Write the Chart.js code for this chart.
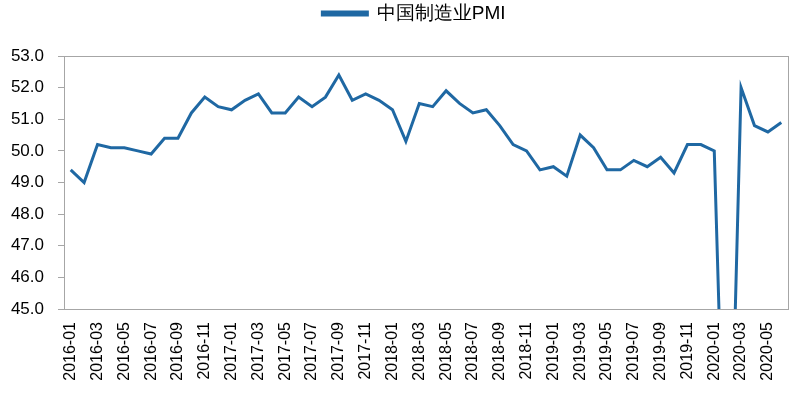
<!DOCTYPE html>
<html>
<head>
<meta charset="utf-8">
<script src="https://cdn.jsdelivr.net/npm/chart.js@4.4.0/dist/chart.umd.min.js"></script>
<style>
  html, body { margin: 0; padding: 0; background: #fff; }
  #wrap { width: 800px; height: 398px; }
</style>
</head>
<body>
<div id="wrap"><canvas id="grafico" width="800" height="398"></canvas></div>
<script>
// meses 2016-01 .. 2020-06
const meses = [
    '2016-01','2016-02','2016-03','2016-04','2016-05','2016-06','2016-07','2016-08','2016-09','2016-10','2016-11','2016-12',
    '2017-01','2017-02','2017-03','2017-04','2017-05','2017-06','2017-07','2017-08','2017-09','2017-10','2017-11','2017-12',
    '2018-01','2018-02','2018-03','2018-04','2018-05','2018-06','2018-07','2018-08','2018-09','2018-10','2018-11','2018-12',
    '2019-01','2019-02','2019-03','2019-04','2019-05','2019-06','2019-07','2019-08','2019-09','2019-10','2019-11','2019-12',
    '2020-01','2020-02','2020-03','2020-04','2020-05','2020-06'
];

const pmi = [
    49.4, 49.0, 50.2, 50.1, 50.1, 50.0, 49.9, 50.4, 50.4, 51.2, 51.7, 51.4,
    51.3, 51.6, 51.8, 51.2, 51.2, 51.7, 51.4, 51.7, 52.4, 51.6, 51.8, 51.6,
    51.3, 50.3, 51.5, 51.4, 51.9, 51.5, 51.2, 51.3, 50.8, 50.2, 50.0, 49.4,
    49.5, 49.2, 50.5, 50.1, 49.4, 49.4, 49.7, 49.5, 49.8, 49.3, 50.2, 50.2,
    50.0, 35.7, 52.0, 50.8, 50.6, 50.9
];

const yMin = 45;
const yMax = 53;
const yStep = 1;

const corLinha = '#1f68a3';
const corEixo = '#a6a6a6';

// moldura cinza em volta da área do gráfico
const moldura = {
    id: 'moldura',
    afterDraw(chart) {
        const { ctx, chartArea: a } = chart;
        ctx.save();
        ctx.strokeStyle = corEixo;
        ctx.lineWidth = 1;
        ctx.strokeRect(a.left + 0.5, a.top + 0.5, a.right - a.left, a.bottom - a.top);
        ctx.restore();
    }
};

// espaço extra abaixo da legenda e deslocamento horizontal
const ajusteLegenda = {
    id: 'ajusteLegenda',
    beforeUpdate(chart) {
        const leg = chart.legend;
        if (leg && !leg._ajustado) {
            const fitOriginal = leg.fit.bind(leg);
            leg.fit = function () {
                fitOriginal();
                this.height += 23;
            };
            leg._ajustado = true;
        }
    },
    afterLayout(chart) {
        if (chart.legend) chart.legend.left += 40;
    }
};

new Chart(document.getElementById('grafico').getContext('2d'), {
    type: 'line',
    data: {
        labels: meses,
        datasets: [{
            label: '中国制造业PMI',
            data: pmi,
            borderColor: corLinha,
            backgroundColor: corLinha,
            borderWidth: 3,
            pointRadius: 0,
            tension: 0,
            fill: false
        }]
    },
    options: {
        responsive: false,
        animation: false,
        layout: { padding: { left: 0, right: 12, top: 0, bottom: 0 } },
        plugins: {
            tooltip: { enabled: false },
            legend: {
                position: 'top',
                labels: {
                    color: '#000',
                    font: { family: 'Liberation Sans, Arial, sans-serif', size: 19 },
                    boxWidth: 45,
                    boxHeight: 3,
                    padding: 4
                }
            }
        },
        scales: {
            x: {
                offset: true,
                grid: { display: true, drawOnChartArea: false, drawTicks: false },
                border: { display: true, color: corEixo },
                afterFit(scale) {
                    scale.height = 89;
                    scale.paddingLeft = 0;
                    scale.paddingRight = 0;
                },
                ticks: {
                    autoSkip: false,
                    minRotation: 90,
                    maxRotation: 90,
                    padding: 13,
                    color: '#000',
                    font: { family: 'Liberation Sans, Arial, sans-serif', size: 16 },
                    callback: (v, i) => (i % 2 === 0 ? meses[i] : '')
                }
            },
            y: {
                min: yMin,
                max: yMax,
                grid: { display: true, drawOnChartArea: false, drawTicks: true, tickLength: 6, color: corEixo },
                border: { display: true, color: corEixo },
                afterFit(scale) { scale.width = 64; },
                ticks: {
                    stepSize: yStep,
                    padding: 14,
                    color: '#000',
                    font: { family: 'Liberation Sans, Arial, sans-serif', size: 17 },
                    callback: v => v.toFixed(1)
                }
            }
        }
    },
    plugins: [moldura, ajusteLegenda]
});
</script>
</body>
</html>
